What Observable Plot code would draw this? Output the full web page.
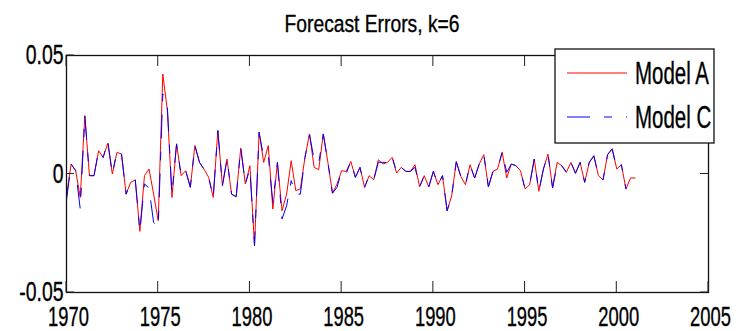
<!DOCTYPE html>
<html><head><meta charset="utf-8">
<script src="https://cdn.jsdelivr.net/npm/d3@7"></script>
<script src="https://cdn.jsdelivr.net/npm/@observablehq/plot@0.6"></script>
<style>html,body{margin:0;padding:0;background:#fff} svg{display:block}</style>
</head><body><div id="chart"></div>
<script>
const title = "Forecast Errors, k=6";
const seriesNames = ["Model A", "Model C"];
const startYear = 1970;          // quarterly observations, first one 1970 Q1
const xTicks = [1970, 1975, 1980, 1985, 1990, 1995, 2000, 2005];
const yTicks = [-0.05, 0, 0.05];
const yTickLabels = ["-0.05", "0", "0.05"];

const modelA = [
 -0.0095, 0.0042, 0.0014,-0.0099, 0.0246,-0.0007,-0.0007, 0.0098, 0.0070, 0.0130,
  0.0000, 0.0091, 0.0084,-0.0085,-0.0035,-0.0025,-0.0242,-0.0007, 0.0021,-0.0085,
 -0.0197, 0.0422, 0.0267,-0.0099, 0.0127,-0.0007, 0.0014,-0.0056, 0.0120, 0.0049,
  0.0020,-0.0014,-0.0099, 0.0183,-0.0049, 0.0063,-0.0085,-0.0096, 0.0110,-0.0042,
  0.0035,-0.0303, 0.0176, 0.0049, 0.0120,-0.0148, 0.0049,-0.0155,-0.0085, 0.0056,
 -0.0070,-0.0063, 0.0070, 0.0169, 0.0028, 0.0018, 0.0169, 0.0049,-0.0081,-0.0042,
  0.0014, 0.0011, 0.0053,-0.0014, 0.0028,-0.0056,-0.0007,-0.0025, 0.0060, 0.0042,
  0.0049, 0.0070, 0.0004, 0.0028, 0.0011, 0.0011, 0.0039,-0.0054,-0.0007,-0.0054,
  0.0011,-0.0045,-0.0007,-0.0155,-0.0092, 0.0052,-0.0011,-0.0045, 0.0039,-0.0017,
  0.0042, 0.0082,-0.0054, 0.0011, 0.0021, 0.0092,-0.0017, 0.0042, 0.0035, 0.0014,
 -0.0063,-0.0045, 0.0063,-0.0073, 0.0021, 0.0084,-0.0059, 0.0049, 0.0035, 0.0007,
  0.0049, 0.0003, 0.0049,-0.0035, 0.0049, 0.0077,-0.0007,-0.0025, 0.0082, 0.0106,
  0.0021, 0.0039,-0.0063,-0.0017,-0.0017
];

const modelC = [
 -0.0110, 0.0042, 0.0014,-0.0148, 0.0246,-0.0007,-0.0007, 0.0098, 0.0070, 0.0140,
  0.0000, 0.0098, 0.0084,-0.0085,-0.0035,-0.0025,-0.0242,-0.0042,-0.0060,-0.0205,
 -0.0225, 0.0338, 0.0280,-0.0085, 0.0127,-0.0007, 0.0014,-0.0056, 0.0120, 0.0049,
  0.0020,-0.0014,-0.0099, 0.0183,-0.0049, 0.0063,-0.0085,-0.0096, 0.0110,-0.0042,
  0.0021,-0.0303, 0.0176, 0.0070, 0.0077,-0.0120, 0.0049,-0.0190,-0.0134,-0.0028,
 -0.0085,-0.0085, 0.0070, 0.0166, 0.0060, 0.0045, 0.0169, 0.0049,-0.0081,-0.0056,
  0.0014, 0.0003, 0.0053,-0.0014, 0.0028,-0.0056,-0.0007,-0.0025, 0.0050, 0.0049,
  0.0049, 0.0077, 0.0004, 0.0028, 0.0011, 0.0011, 0.0028,-0.0054,-0.0007,-0.0054,
  0.0011,-0.0045,-0.0007,-0.0155,-0.0092, 0.0052,-0.0011,-0.0045, 0.0039,-0.0017,
  0.0042, 0.0082,-0.0054, 0.0011, 0.0021, 0.0092, 0.0007, 0.0042, 0.0035, 0.0014,
 -0.0063,-0.0045, 0.0063,-0.0073, 0.0021, 0.0084,-0.0059, 0.0042, 0.0035, 0.0007,
  0.0049, 0.0003, 0.0049,-0.0035, 0.0049, 0.0077,-0.0007,-0.0025, 0.0082, 0.0106,
  0.0021, 0.0039,-0.0063
];

const toRows = arr => arr.map((v, i) => ({t: startYear + i / 4, v}));
const rowsA = toRows(modelA);
const rowsC = toRows(modelC);

const W = 744, H = 331;
const FONT = "'Liberation Sans', Arial, Helvetica, sans-serif";
const DASH = "23,14,8,14";

const plot = Plot.plot({
  width: W, height: H,
  marginLeft: 66, marginRight: 36, marginTop: 55, marginBottom: 39,
  style: {fontFamily: FONT, background: "#fff", color: "#000", overflow: "visible"},
  x: {domain: [1970, 2005]},
  y: {domain: [-0.05, 0.05]},
  marks: [
    Plot.line(rowsA, {x: "t", y: "v", stroke: "#ff0000", strokeWidth: 1}),
    Plot.line(rowsC, {x: "t", y: "v", stroke: "#0000ff", strokeWidth: 1, strokeDasharray: DASH}),
    Plot.frame({stroke: "#111", strokeWidth: 1.3}),
    Plot.axisX({ticks: xTicks, tickSize: 0, tickPadding: 14, fontSize: 27, dx: 2,
                tickFormat: d => String(d), label: null, fill: "#000"}),
    Plot.axisY({ticks: yTicks, tickSize: 0, tickPadding: 3, fontSize: 27,
                tickFormat: d => yTickLabels[yTicks.indexOf(d)], label: null, fill: "#000"})
  ]
});

document.getElementById("chart").appendChild(plot);

const sx = plot.scale("x"), sy = plot.scale("y");
const svg = d3.select(plot);
const x0 = sx.range[0], x1 = sx.range[1];
const yB = sy.range[0], yT = sy.range[1];
const tg = svg.append("g").attr("stroke", "#222").attr("stroke-width", 1);
xTicks.forEach(t => {
  const x = sx.apply(t);
  tg.append("line").attr("x1", x).attr("x2", x).attr("y1", yB).attr("y2", yB - 11);
  tg.append("line").attr("x1", x).attr("x2", x).attr("y1", yT).attr("y2", yT + 11);
});
yTicks.forEach(t => {
  const y = sy.apply(t);
  tg.append("line").attr("x1", x0).attr("x2", x0 + 8).attr("y1", y).attr("y2", y);
  tg.append("line").attr("x1", x1).attr("x2", x1 - 8).attr("y1", y).attr("y2", y);
});

// title
svg.append("text").attr("class", "ttl")
  .attr("transform", "translate(372,32)").attr("text-anchor", "middle")
  .attr("font-family", FONT).attr("font-size", 23.5).attr("fill", "#000")
  .text(title);

// legend
const lg = svg.append("g").attr("text-anchor", "start");
lg.append("rect").attr("x", 555).attr("y", 49).attr("width", 159).attr("height", 94)
  .attr("fill", "#fff").attr("stroke", "#111").attr("stroke-width", 1.3);
const legendStyles = [
  {color: "#ff0000", dash: null, y: 73},
  {color: "#0000ff", dash: DASH, y: 117}
];
seriesNames.forEach((name, i) => {
  const s = legendStyles[i];
  const l = lg.append("line").attr("x1", 567).attr("x2", 627).attr("y1", s.y).attr("y2", s.y)
    .attr("stroke", s.color).attr("stroke-width", 1);
  if (s.dash) l.attr("stroke-dasharray", s.dash);
  lg.append("text").attr("class", "lgt").attr("transform", `translate(635,${s.y + 11})`)
    .attr("text-anchor", "start")
    .attr("font-family", FONT).attr("font-size", 31).attr("fill", "#000").text(name);
});

// condensed, heavy look of the original rendering: horizontal scale about each text's anchor
function squeeze(sel, f) {
  sel.each(function() {
    const tr = this.getAttribute("transform") || "";
    this.setAttribute("transform", `${tr} scale(${f},1)`.trim());
    this.setAttribute("stroke", "#000");
    this.setAttribute("stroke-width", 0.35);
  });
}
squeeze(svg.selectAll("g[aria-label='x-axis tick label'] text"), 0.68);
squeeze(svg.selectAll("g[aria-label='y-axis tick label'] text"), 0.72);
squeeze(svg.selectAll("text.ttl"), 0.82);
squeeze(svg.selectAll("text.lgt"), 0.66);
</script></body></html>
